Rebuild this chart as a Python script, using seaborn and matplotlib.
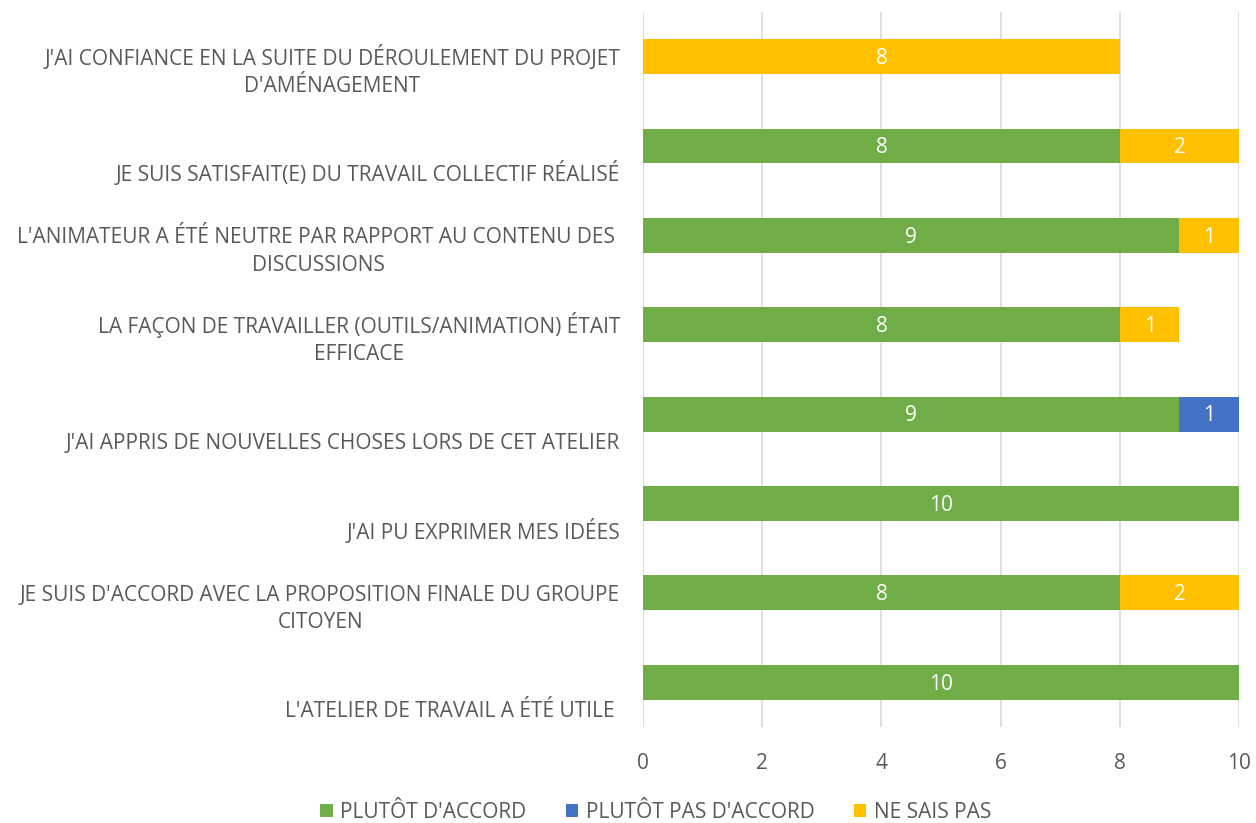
import numpy as np
import matplotlib.pyplot as plt
import seaborn as sns
import pandas as pd
from matplotlib.patches import Patch

# Statements, top to bottom
statements = [
    "J'AI CONFIANCE EN LA SUITE DU DÉROULEMENT DU PROJET\nD'AMÉNAGEMENT",
    "JE SUIS SATISFAIT(E) DU TRAVAIL COLLECTIF RÉALISÉ",
    "L'ANIMATEUR A ÉTÉ NEUTRE PAR RAPPORT AU CONTENU DES \nDISCUSSIONS",
    "LA FAÇON DE TRAVAILLER (OUTILS/ANIMATION) ÉTAIT\nEFFICACE",
    "J'AI APPRIS DE NOUVELLES CHOSES LORS DE CET ATELIER",
    "J'AI PU EXPRIMER MES IDÉES",
    "JE SUIS D'ACCORD AVEC LA PROPOSITION FINALE DU GROUPE\nCITOYEN",
    "L'ATELIER DE TRAVAIL A ÉTÉ UTILE ",
]
plutot_accord = [0, 8, 9, 8, 9, 10, 8, 10]
plutot_pas_accord = [0, 0, 0, 0, 1, 0, 0, 0]
ne_sais_pas = [8, 2, 1, 1, 0, 0, 2, 0]

series_names = ["PLUTÔT D'ACCORD", "PLUTÔT PAS D'ACCORD", "NE SAIS PAS"]
colors = ["#70AD47", "#4472C4", "#FFC000"]
text_color = "#595959"
fs = 15

df = pd.DataFrame({
    'Statement': statements,
    'green': plutot_accord,
    'blue': plutot_pas_accord,
    'yellow': ne_sais_pas,
})
df['cum_green'] = df['green']
df['cum_blue'] = df['green'] + df['blue']
df['cum_yellow'] = df['cum_blue'] + df['yellow']

sns.set_theme(style="white")
plt.rcParams['font.family'] = ['Open Sans', 'DejaVu Sans']

fig = plt.figure(figsize=(12.56, 8.23), dpi=100)
ax = fig.add_axes([0.512, 0.1167, 0.4745, 0.8687])

bar_w = 0.39
# draw stacked bars back to front using cumulative totals
for col, color in [('cum_yellow', colors[2]), ('cum_blue', colors[1]), ('cum_green', colors[0])]:
    sns.barplot(data=df, y='Statement', x=col, orient='h', color=color,
                width=bar_w, saturation=1, ax=ax, linewidth=0)

# segment labels
for i, row in df.iterrows():
    start = 0
    for key in ['green', 'blue', 'yellow']:
        v = row[key]
        if v > 0:
            ax.text(start + v / 2, i + 0.02, str(v), ha='center', va='center',
                    color='white', fontsize=fs)
        start += v

ax.set_xlim(0, 10)
ax.set_ylim(len(statements) - 0.5, -0.5)
ax.set_xticks(np.arange(0, 11, 2))
ax.set_xticklabels([str(t) for t in range(0, 11, 2)], color=text_color, fontsize=fs)
ax.tick_params(axis='x', length=0, pad=19)
ax.set_yticks([])
ax.set_xlabel('')
ax.set_ylabel('')
ax.xaxis.grid(True, color='#d9d9d9', linewidth=1.2)
ax.set_axisbelow(True)
for s in ax.spines.values():
    s.set_visible(False)

# category labels, right-aligned and sitting below the bar center like Excel
trans = ax.get_yaxis_transform()
for i, lab in enumerate(statements):
    ax.text(-0.0385, i + 0.45, lab, transform=trans, ha='right', va='bottom',
            multialignment='center', color=text_color, fontsize=fs,
            linespacing=1.4)

handles = [Patch(facecolor=c, edgecolor='none', label=n) for c, n in zip(colors, series_names)]
fig.legend(handles=handles, loc='center', bbox_to_anchor=(0.522, 0.013), ncol=3,
           frameon=False, fontsize=fs, handlelength=0.6, handleheight=0.6,
           handletextpad=0.35, columnspacing=1.9, labelcolor=text_color)

fig.savefig('out.png', dpi=100)
